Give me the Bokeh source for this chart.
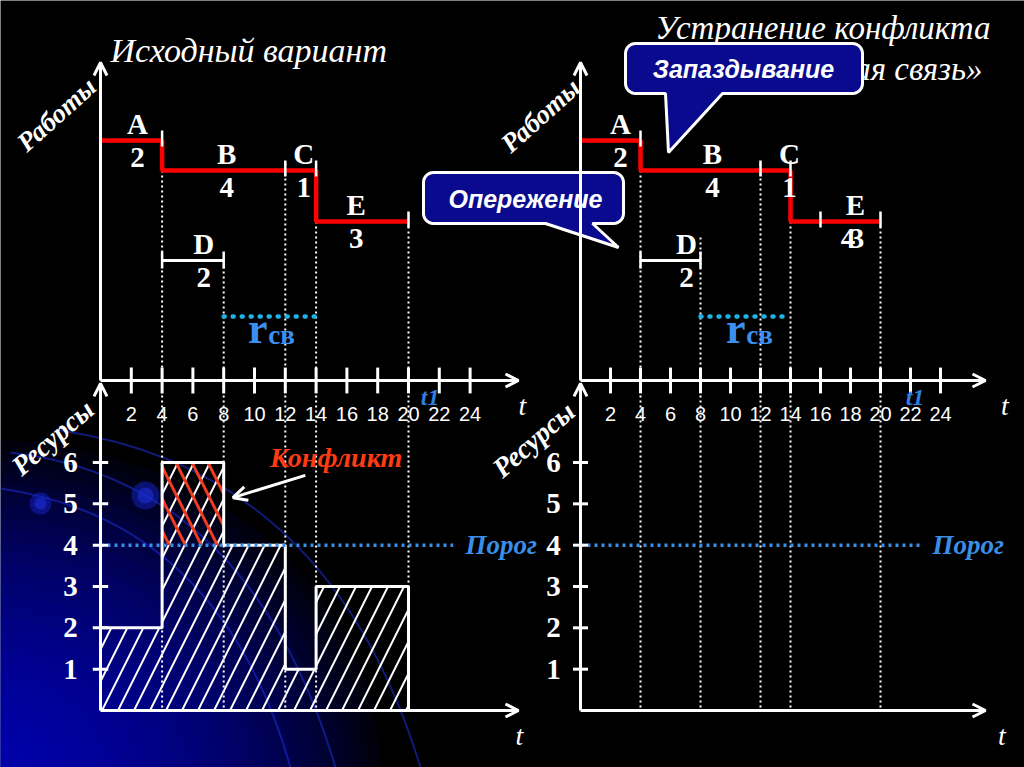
import numpy as np
from bokeh.plotting import figure
from bokeh.models import Range1d, Arrow, OpenHead
from bokeh.core.properties import value
from bokeh.embed import file_html
from bokeh.resources import INLINE

# ---------------- data ----------------
tasks = ["A", "B", "C", "D", "E"]
durations = ["2", "4", "1", "2", "3"]
right_durations = ["2", "4", "1", "2", "4"]      # right panel: E shows "4" over "3"
task_start = [0, 4, 12, 4, 14]
task_end = [4, 12, 14, 8, 20]
task_row = [1, 2, 2, 5, 3.7]
critical_path = ["A", "B", "C", "E"]
time_ticks = [2, 4, 6, 8, 10, 12, 14, 16, 18, 20, 22, 24]
time_tick_labels = [str(v) for v in time_ticks]
res_ticks = [1, 2, 3, 4, 5, 6]
res_start = [0, 4, 8, 12, 14]
res_end = [4, 8, 12, 14, 20]
res_value = [2, 6, 4, 1, 3]
threshold = 4
rsv_start, rsv_end = 8, 14
event_times = [4, 8, 12, 14, 20]
right_e_marks = [16, 20]

# ---------------- layout (screen mapping) ----------------
W, H = 1024, 767
OX, OY = 0, 0
LEFT_X0, LEFT_SX = 100.0, 15.4
RIGHT_X0, RIGHT_SX = 580.0, 15.0
ROW_Y0, ROW_SY = 110.0, 30.0
RES_Y0, RES_SY = 710.0, 41.33
AXIS_ROW = (380 - ROW_Y0) / ROW_SY
RES_TOP = (RES_Y0 - 380) / RES_SY

p = figure(width=W, height=H, x_range=Range1d(OX, OX + W), y_range=Range1d(OY + H, OY),
           output_backend="svg", toolbar_location=None, min_border=0,
           x_axis_location=None, y_axis_location=None,
           background_fill_color="black", border_fill_color="black", outline_line_color=None)
p.xgrid.grid_line_color = None
p.ygrid.grid_line_color = None
p.extra_x_ranges = {
    "tL": Range1d((OX - LEFT_X0) / LEFT_SX, (OX + W - LEFT_X0) / LEFT_SX),
    "tR": Range1d((OX - RIGHT_X0) / RIGHT_SX, (OX + W - RIGHT_X0) / RIGHT_SX),
}
p.extra_y_ranges = {
    "rows": Range1d(start=(OY + H - ROW_Y0) / ROW_SY, end=(OY - ROW_Y0) / ROW_SY),
    "res": Range1d(start=(RES_Y0 - OY - H) / RES_SY, end=(RES_Y0 - OY) / RES_SY),
}

SERIF = value("Liberation Serif")
SANS = value("Liberation Sans")
WHITE = "white"
BLUE = "#3a8ee8"

# ---------------- background decoration ----------------
n_layers = 30
k = np.linspace(1.0, 0.04, n_layers)
p.ellipse(x=[-10] * n_layers, y=[775] * n_layers, width=list(2 * 390 * k), height=list(2 * 335 * k),
          fill_color="#0812d8", fill_alpha=0.055, line_color=None)
p.quadratic(x0=[10, 0, 60], y0=[452, 488, 430], x1=[335, 290, 420], y1=[767, 767, 767],
            cx=[250, 220, 330], cy=[480, 520, 470], line_color="#1d2fd8", line_alpha=0.55, line_width=2)
p.scatter(x=[40, 145], y=[503, 495], size=[22, 28], fill_color="#1423c8", fill_alpha=0.5, line_color=None)
p.scatter(x=[40, 145], y=[503, 495], size=[12, 16], fill_color="#1e30e0", fill_alpha=0.55, line_color=None)

def txt(x, y, text, xr="default", yr="default", font=SERIF, size="29px", style="bold",
        color=WHITE, align="center", baseline="middle", angle=0.0):
    p.text(x=x, y=y, text=text, x_range_name=xr, y_range_name=yr, text_font=font,
           text_font_size=size, text_font_style=style, text_color=color, text_align=align,
           text_baseline=baseline, angle=angle, angle_units="deg")

def arrow(x0, y0, x1, y1, xr, yr, size=13):
    p.add_layout(Arrow(x_start=x0, y_start=y0, x_end=x1, y_end=y1, x_range_name=xr, y_range_name=yr,
                       line_color=WHITE, line_width=3,
                       end=OpenHead(size=size, line_color=WHITE, line_width=3)))

idx = {t: i for i, t in enumerate(tasks)}

panels = [
    dict(xr="tL", label_t=[2.4, 8.2, 13.2, 6.7, 16.6], dur=durations, num_dx=[0, 0, 0, 0, 0],
         dotted_top=[2, 5.2, 1.77, 3.7, 3.7], e_marks=[20], tip=27.14, res_lab=-1.95,
         thr_end=22.9, thr_lab=23.7, t_lab=27.4, t1=21.4, bars=True, rsv_lab=10.84),
    dict(xr="tR", label_t=[2.67, 8.8, 13.93, 7.07, 18.33], dur=right_durations, num_dx=[0, 0, 0, 0, -0.5],
         dotted_top=[2, 4.23, 1.77, 3.7, 3.7], e_marks=right_e_marks, tip=27.0, res_lab=-1.8,
         thr_end=22.7, thr_lab=23.47, t_lab=28.3, t1=22.3, bars=False, rsv_lab=11.0),
]

for P in panels:
    xr = P["xr"]
    # ---- resource bars ----
    if P["bars"]:
        p.quad(left=res_start, right=res_end, bottom=[0] * len(res_value), top=res_value,
               fill_color=None, line_color=None, hatch_pattern="/", hatch_color=WHITE,
               hatch_weight=2, hatch_scale=32, x_range_name=xr, y_range_name="res")
        cl = [s for s, v in zip(res_start, res_value) if v > threshold]
        cr = [e for e, v in zip(res_end, res_value) if v > threshold]
        ct = [v for v in res_value if v > threshold]
        p.quad(left=cl, right=cr, bottom=[threshold] * len(ct), top=ct,
               fill_color=None, line_color=None, hatch_pattern="\\", hatch_color="#f03c1e",
               hatch_weight=3, hatch_scale=32, x_range_name=xr, y_range_name="res")
        ox, oy = [res_start[0]], [res_value[0]]
        for i in range(len(res_value)):
            ox.append(res_end[i]); oy.append(res_value[i])
            nxt = res_value[i + 1] if i + 1 < len(res_value) else 0
            ox.append(res_end[i]); oy.append(nxt)
        p.line(ox, oy, line_color=WHITE, line_width=3, x_range_name=xr, y_range_name="res")

    # ---- dotted event lines ----
    p.segment(x0=event_times, y0=P["dotted_top"], x1=event_times, y1=[AXIS_ROW] * 5,
              line_color=WHITE, line_width=2, line_dash="2 3", x_range_name=xr, y_range_name="rows")
    p.segment(x0=event_times, y0=[RES_TOP] * 5, x1=event_times, y1=[0] * 5,
              line_color=WHITE, line_width=2, line_dash="2 3", x_range_name=xr, y_range_name="res")

    # ---- threshold ----
    p.line([0, P["thr_end"]], [threshold, threshold], line_color=BLUE, line_width=3.5,
           line_dash="3 4", x_range_name=xr, y_range_name="res")
    txt([P["thr_lab"]], [threshold], ["Порог"], xr, "res", size="27px", style="bold italic",
        color=BLUE, align="left")

    # ---- axes ----
    arrow(0, AXIS_ROW, 0, -1.6, xr, "rows")
    arrow(0, AXIS_ROW, P["tip"], AXIS_ROW, xr, "rows")
    arrow(0, 0, 0, RES_TOP - 0.07, xr, "res")
    arrow(0, 0, P["tip"], 0, xr, "res")
    p.segment(x0=time_ticks, y0=[AXIS_ROW - 0.43] * 12, x1=time_ticks, y1=[AXIS_ROW + 0.43] * 12,
              line_color=WHITE, line_width=3, x_range_name=xr, y_range_name="rows")
    txt(time_ticks, [10.1] * 12, time_tick_labels, xr, "rows", font=SANS, size="20px", style="normal")
    p.segment(x0=[-0.5] * 6, y0=res_ticks, x1=[0.5] * 6, y1=res_ticks,
              line_color=WHITE, line_width=3, x_range_name=xr, y_range_name="res")
    txt([P["res_lab"]] * 6, res_ticks, [str(v) for v in res_ticks], xr, "res", size="29px")
    txt([P["t_lab"]], [9.83], ["t"], xr, "rows", size="28px", style="italic")
    txt([P["t_lab"] - 0.2], [-0.6], ["t"], xr, "res", size="28px", style="italic")
    txt([P["t1"]], [9.55], ["t1"], xr, "rows", size="24px", style="bold italic", color="#2f7fe0")

    # ---- gantt: critical path ----
    cx, cy = [], []
    for name in critical_path:
        i = idx[name]
        cx += [task_start[i], task_end[i]]
        cy += [task_row[i], task_row[i]]
    p.line(cx, cy, line_color="#ff0000", line_width=4.5, x_range_name=xr, y_range_name="rows")

    # event marks on the path
    mx = [task_end[idx["A"]], task_end[idx["B"]], task_end[idx["C"]]] + P["e_marks"]
    my = [task_row[idx["A"]], task_row[idx["B"]], task_row[idx["C"]]] + [task_row[idx["E"]]] * len(P["e_marks"])
    p.segment(x0=mx, y0=[r - 0.33 for r in my], x1=mx, y1=[r + 0.2 for r in my],
              line_color=WHITE, line_width=2.5, x_range_name=xr, y_range_name="rows")

    # D (non-critical) bar with caps
    d = idx["D"]
    p.line([task_start[d], task_end[d]], [task_row[d], task_row[d]], line_color=WHITE, line_width=3,
           x_range_name=xr, y_range_name="rows")
    p.segment(x0=[task_start[d], task_end[d]], y0=[task_row[d] - 0.3] * 2,
              x1=[task_start[d], task_end[d]], y1=[task_row[d] + 0.27] * 2,
              line_color=WHITE, line_width=2.5, x_range_name=xr, y_range_name="rows")

    # task labels
    txt(P["label_t"], [r - 0.55 for r in task_row], tasks, xr, "rows")
    nt = [t + dx for t, dx in zip(P["label_t"], P["num_dx"])]
    txt(nt, [r + 0.57 for r in task_row], P["dur"], xr, "rows")
    if xr == "tR":
        txt([P["label_t"][4] + 0.1], [task_row[4] + 0.57], [durations[4]], xr, "rows")

    # free float r_св
    p.line([rsv_start, rsv_end], [6.87, 6.87], line_color="#1eb4ea", line_width=4.5, line_dash="1 8",
           line_cap="round", x_range_name=xr, y_range_name="rows")
    txt([P["rsv_lab"]], [7.27], ["r"], xr, "rows", size="44px", color="#3b8ff0", align="right")
    txt([P["rsv_lab"] + 0.05], [7.47], ["св"], xr, "rows", size="27px", color="#3b8ff0", align="left")

# conflict annotation (left)
txt([15.3], [6.12], ["Конфликт"], "tL", "res", size="28px", style="bold italic", color="#ff3b12")
arrow(13.3, 5.69, 8.6, 5.15, "tL", "res", size=14)

# ---------------- titles and axis names ----------------
txt([110], [50], ["Исходный вариант"], size="34px", style="italic", align="left")
txt([990], [27], ["Устранение конфликта"], size="33px", style="italic", align="right")
txt([982], [68], ["«Логическая связь»"], size="33px", style="italic", align="right")
txt([56, 540], [114, 115], ["Работы", "Работы"], size="27px", style="bold italic", angle=42)
txt([52, 533], [437, 439], ["Ресурсы", "Ресурсы"], size="28px", style="bold italic", angle=41)

# ---------------- callouts ----------------
def callout(x0, x1, y0, y1, tail_l, tail_r, tip, r=10):
    xs, ys = [], []
    def arc(cx, cy, a0, a1):
        a = np.linspace(a0, a1, 8)
        xs.extend(cx + r * np.cos(a)); ys.extend(cy + r * np.sin(a))
    arc(x0 + r, y0 + r, np.pi, 1.5 * np.pi)
    arc(x1 - r, y0 + r, 1.5 * np.pi, 2 * np.pi)
    arc(x1 - r, y1 - r, 0, 0.5 * np.pi)
    xs.extend([tail_r, tip[0], tail_l]); ys.extend([y1, tip[1], y1])
    arc(x0 + r, y1 - r, 0.5 * np.pi, np.pi)
    p.patch(xs, ys, fill_color="#0a0a8f", line_color=WHITE, line_width=3)

callout(625, 862, 43, 93, 665, 722, (668, 152))
txt([743], [68], ["Запаздывание"], font=SANS, size="25px", style="bold italic")
callout(423, 623, 172, 223, 545, 592, (618, 247))
txt([525], [198], ["Опережение"], font=SANS, size="25px", style="bold italic")

open("out.html", "w").write(file_html(p, INLINE))
